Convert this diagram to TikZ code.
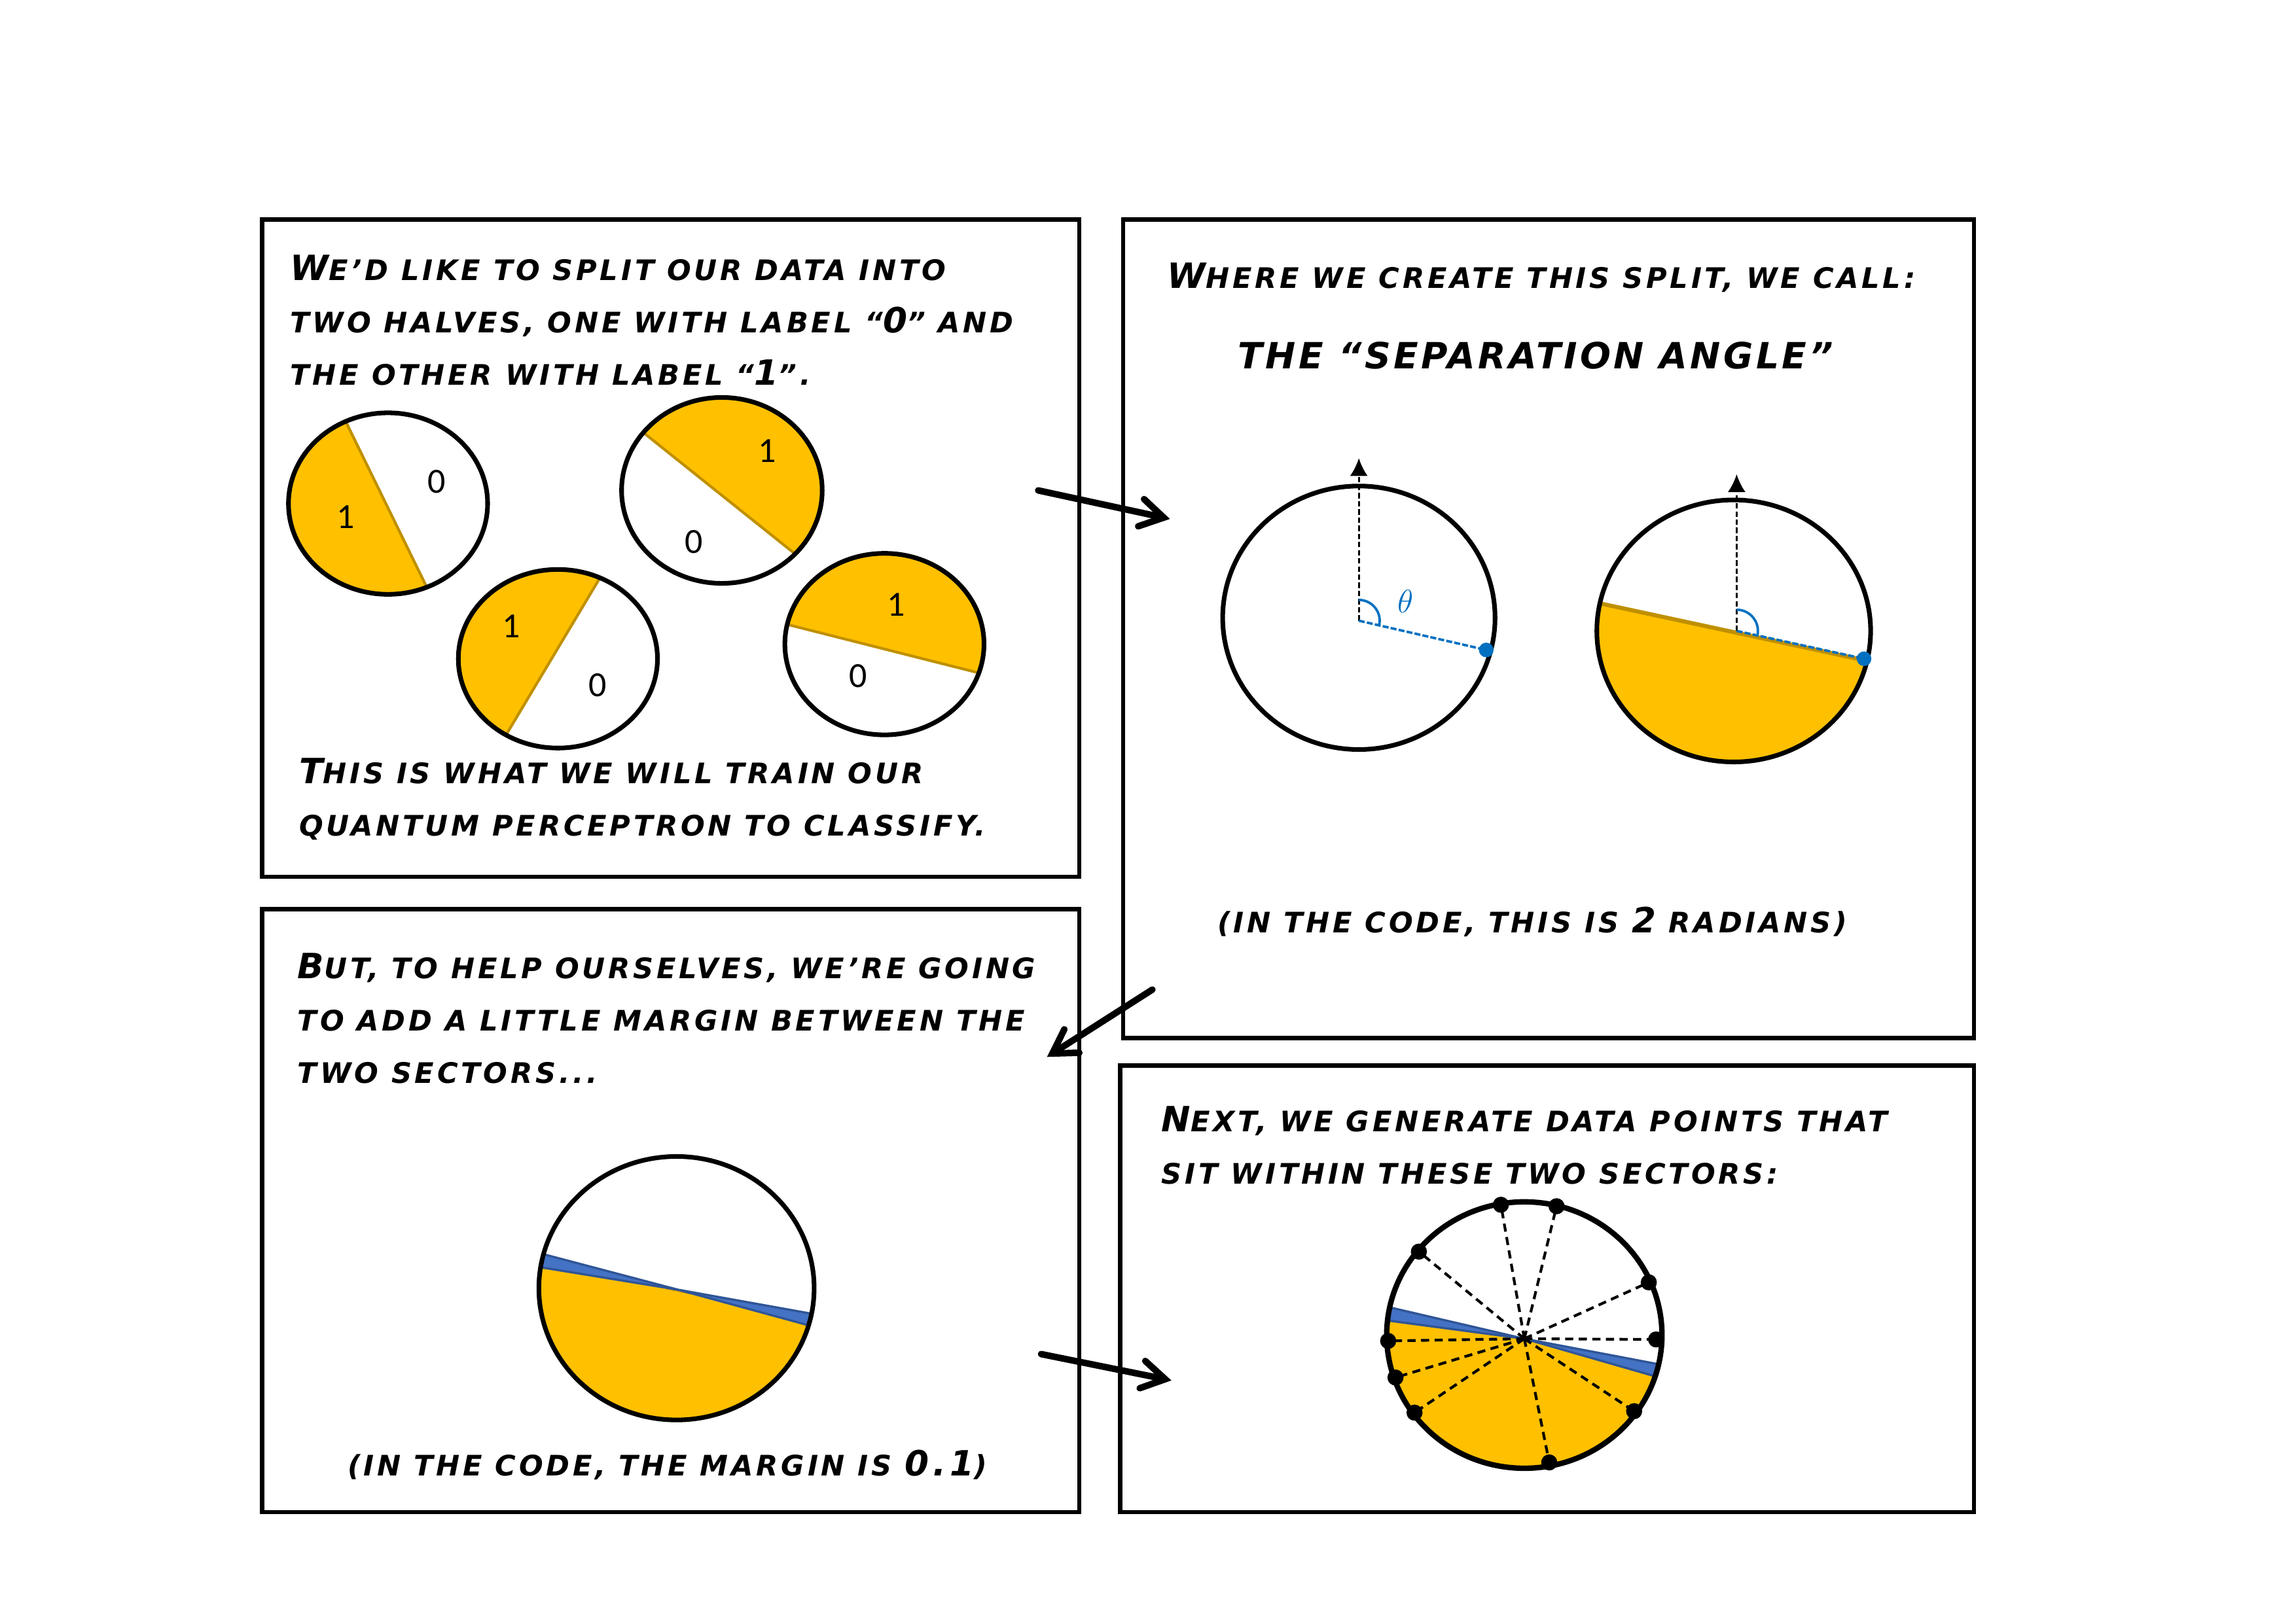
\documentclass[tikz,border=0pt]{standalone}
\usepackage{fontspec}
\setmainfont{DejaVu Sans}
\newfontfamily\comic{DejaVu Sans Bold Oblique}[LetterSpace=11]
\newfontfamily\comich{DejaVu Sans Bold Oblique}[LetterSpace=8]
\newfontfamily\labfont{Carlito}
\usetikzlibrary{arrows.meta}
\definecolor{gold}{HTML}{FFC000}
\definecolor{golde}{HTML}{BF9000}
\definecolor{mblue}{HTML}{4472C4}
\definecolor{mblued}{HTML}{2F5597}
\definecolor{tblue}{HTML}{0070C0}
\newcommand\bigc[1]{{\fontsize{12.8}{12.8}\selectfont #1}}
\tikzset{
  panel/.style={draw, line width=1.6pt},
  disk/.style={draw, line width=1.7pt},
  txt/.style={font=\comic\fontsize{10.4}{19.3}\selectfont, anchor=base west, align=left, inner sep=0pt},
  lab/.style={font=\labfont\fontsize{13}{13}\selectfont, inner sep=0pt},
  chord/.style={draw=golde, line width=1pt},
  yel/.style={fill=gold},
  wedge/.style={fill=mblue, draw=mblued, line width=0.8pt},
  bigarrow/.style={line width=2.4pt, line cap=round, -{Straight Barb[length=3mm, width=3.6mm, line cap=round]}},
  uparrow/.style={dashed, dash pattern=on 2pt off 1pt, line width=0.7pt, -{Latex[length=2.3mm, width=2.3mm]}},
  bdash/.style={draw=tblue, dash pattern=on 2.2pt off 0.8pt, line width=0.9pt},
  ddash/.style={dash pattern=on 3pt off 2pt, line width=1pt},
  bdot/.style={fill=tblue},
  kdot/.style={fill=black}
}
\begin{document}
\begin{tikzpicture}[x=0.018941cm, y=-0.018941cm]
\useasboundingbox (0,0) rectangle (1568,1109);
\fill[white] (0,0) rectangle (1568,1109);

% panels
\draw[panel] (179,150) rectangle (737,599);
\draw[panel] (767,150) rectangle (1348,709);
\draw[panel] (179,621) rectangle (737,1033);
\draw[panel] (765,728) rectangle (1348,1033);

% ---------------- panel 1 ----------------
% (multi-line nodes: base anchor = baseline of the last line)
\node[txt] (t1) at (198,263) {\bigc{W}E’D LIKE TO SPLIT OUR DATA INTO\\TWO HALVES, ONE WITH LABEL “\bigc{0}” AND\\THE OTHER WITH LABEL “\bigc{1}”.};
\node[txt] (t2) at (204,571) {\bigc{T}HIS IS WHAT WE WILL TRAIN OUR\\QUANTUM PERCEPTRON TO CLASSIFY.};

% circle A
\begin{scope}
\clip (265,344) ellipse [x radius=68, y radius=62];
\fill[yel] (198,210) -- (331,482) -- (100,482) -- (100,210) -- cycle;
\draw[chord] (198,210) -- (331,482);
\end{scope}
\draw[disk] (265,344) ellipse [x radius=68, y radius=62];
\node[lab] (a1) at (236,353) {1};
\node[lab] (a0) at (298,329) {0};

% circle B
\begin{scope}
\clip (493,335) ellipse [x radius=68.5, y radius=63.5];
\fill[yel] (385,252) -- (600,424) -- (600,200) -- (385,200) -- cycle;
\draw[chord] (385,252) -- (600,424);
\end{scope}
\draw[disk] (493,335) ellipse [x radius=68.5, y radius=63.5];
\node[lab] (b1) at (524,308) {1};
\node[lab] (b0) at (474,370) {0};

% circle C
\begin{scope}
\clip (381,450) ellipse [x radius=68, y radius=61];
\fill[yel] (449,329) -- (305,570) -- (250,570) -- (250,329) -- cycle;
\draw[chord] (449,329) -- (305,570);
\end{scope}
\draw[disk] (381,450) ellipse [x radius=68, y radius=61];
\node[lab] (c1) at (349,428) {1};
\node[lab] (c0) at (408,468) {0};

% circle D
\begin{scope}
\clip (604,440) ellipse [x radius=68, y radius=62];
\fill[yel] (480,412) -- (729,475) -- (729,360) -- (480,360) -- cycle;
\draw[chord] (480,412) -- (729,475);
\end{scope}
\draw[disk] (604,440) ellipse [x radius=68, y radius=62];
\node[lab] (d1) at (612,413) {1};
\node[lab] (d0) at (586,462) {0};

% ---------------- panel 2 ----------------
\node[txt] (t3) at (797,197) {\bigc{W}HERE WE CREATE THIS SPLIT, WE CALL:};
\node[txt, font=\comich\fontsize{13.3}{16}\selectfont] (t4) at (845,252) {THE “SEPARATION ANGLE”};
\node[txt] (t5) at (831,637) {(IN THE CODE, THIS IS \bigc{2} RADIANS)};

% left circle
\coordinate (o1) at (928,424);
\coordinate (u1) at (928,313);
\coordinate (p1) at (1015,444);
\draw[disk] (928,422) ellipse [x radius=93, y radius=90];
\draw[uparrow] (o1) -- (u1);
\draw[bdash] (o1) -- (p1);
\draw[tblue, line width=0.9pt] (928,409.8) arc [start angle=90, end angle=-12.9, radius=0.269cm];
\fill[bdot] (p1) circle [radius=5];
\node[text=tblue, font=\fontsize{12}{12}\selectfont, inner sep=0pt] (th) at (960,411) {$\theta$};

% right circle
\coordinate (o2) at (1186,431);
\coordinate (u2) at (1186,324);
\coordinate (p2) at (1273,450);
\begin{scope}
\clip (1184,431) ellipse [x radius=93.5, y radius=89.5];
\fill[yel] (992,390.5) -- (1373,472.5) -- (1373,560) -- (992,560) -- cycle;
\draw[chord, line width=1.5pt] (992,390.5) -- (1373,472.5);
\end{scope}
\draw[disk] (1184,431) ellipse [x radius=93.5, y radius=89.5];
\draw[uparrow] (o2) -- (u2);
\draw[bdash] (o2) -- (p2);
\draw[tblue, line width=0.9pt] (1186,416.5) arc [start angle=90, end angle=-12.7, radius=0.275cm];
\fill[bdot] (p2) circle [radius=5];

% ---------------- panel 3 ----------------
\node[txt] (t6) at (203,740) {\bigc{B}UT, TO HELP OURSELVES, WE’RE GOING\\TO ADD A LITTLE MARGIN BETWEEN THE\\TWO SECTORS...};
\node[txt] (t7) at (237,1008) {(IN THE CODE, THE MARGIN IS \bigc{0.1})};

\coordinate (m3) at (463,881);
\begin{scope}
\clip (462,880) ellipse [x radius=94, y radius=90];
\fill[yel] (m3) -- (639,929) -- (639,1050) -- (279,1050) -- (279,851) -- cycle;
\draw[chord] (455,879.7) -- (471,883.2);
\filldraw[wedge] (m3) -- (641,913) -- (639,929) -- cycle;
\filldraw[wedge] (m3) -- (281,833) -- (279,851) -- cycle;
\end{scope}
\draw[disk] (462,880) ellipse [x radius=94, y radius=90];

% ---------------- panel 4 ----------------
\node[txt] (t8) at (793,809) {\bigc{N}EXT, WE GENERATE DATA POINTS THAT\\SIT WITHIN THESE TWO SECTORS:};

\coordinate (m4) at (1041,914.5);
\begin{scope}
\clip (1041,912) ellipse [x radius=94, y radius=91];
\fill[yel] (m4) -- (1215,964.5) -- (1215,1100) -- (857,1100) -- (857,890) -- cycle;
\filldraw[wedge] (m4) -- (1217.8,948.1) -- (1215,964.5) -- cycle;
\filldraw[wedge] (m4) -- (859,872.1) -- (857,890) -- cycle;
\end{scope}
\foreach \n/\px/\py in {q1/1025/823, q2/1063/824, q3/969/855, q4/1126/876, q5/948/916, q6/1131/915, q7/953/941, q8/966/965, q9/1116/964, q10/1058/999}{
  \coordinate (\n) at (\px,\py);
  \draw[ddash] (m4) -- (\n);
}
\draw[disk, line width=2pt] (1041,912) ellipse [x radius=94, y radius=91];
\foreach \n in {q1,q2,q3,q4,q5,q6,q7,q8,q9,q10}{
  \fill[kdot] (\n) circle [radius=5.5];
}

% ---------------- arrows ----------------
\coordinate (a1s) at (709,335);
\coordinate (a1e) at (799,354.5);
\coordinate (a2s) at (787,676);
\coordinate (a2e) at (715,722);
\coordinate (a3s) at (711,925);
\coordinate (a3e) at (800,943);
\draw[bigarrow] (a1s) -- (a1e);
\draw[bigarrow] (a2s) -- (a2e);
\draw[bigarrow] (a3s) -- (a3e);
\end{tikzpicture}
\end{document}
